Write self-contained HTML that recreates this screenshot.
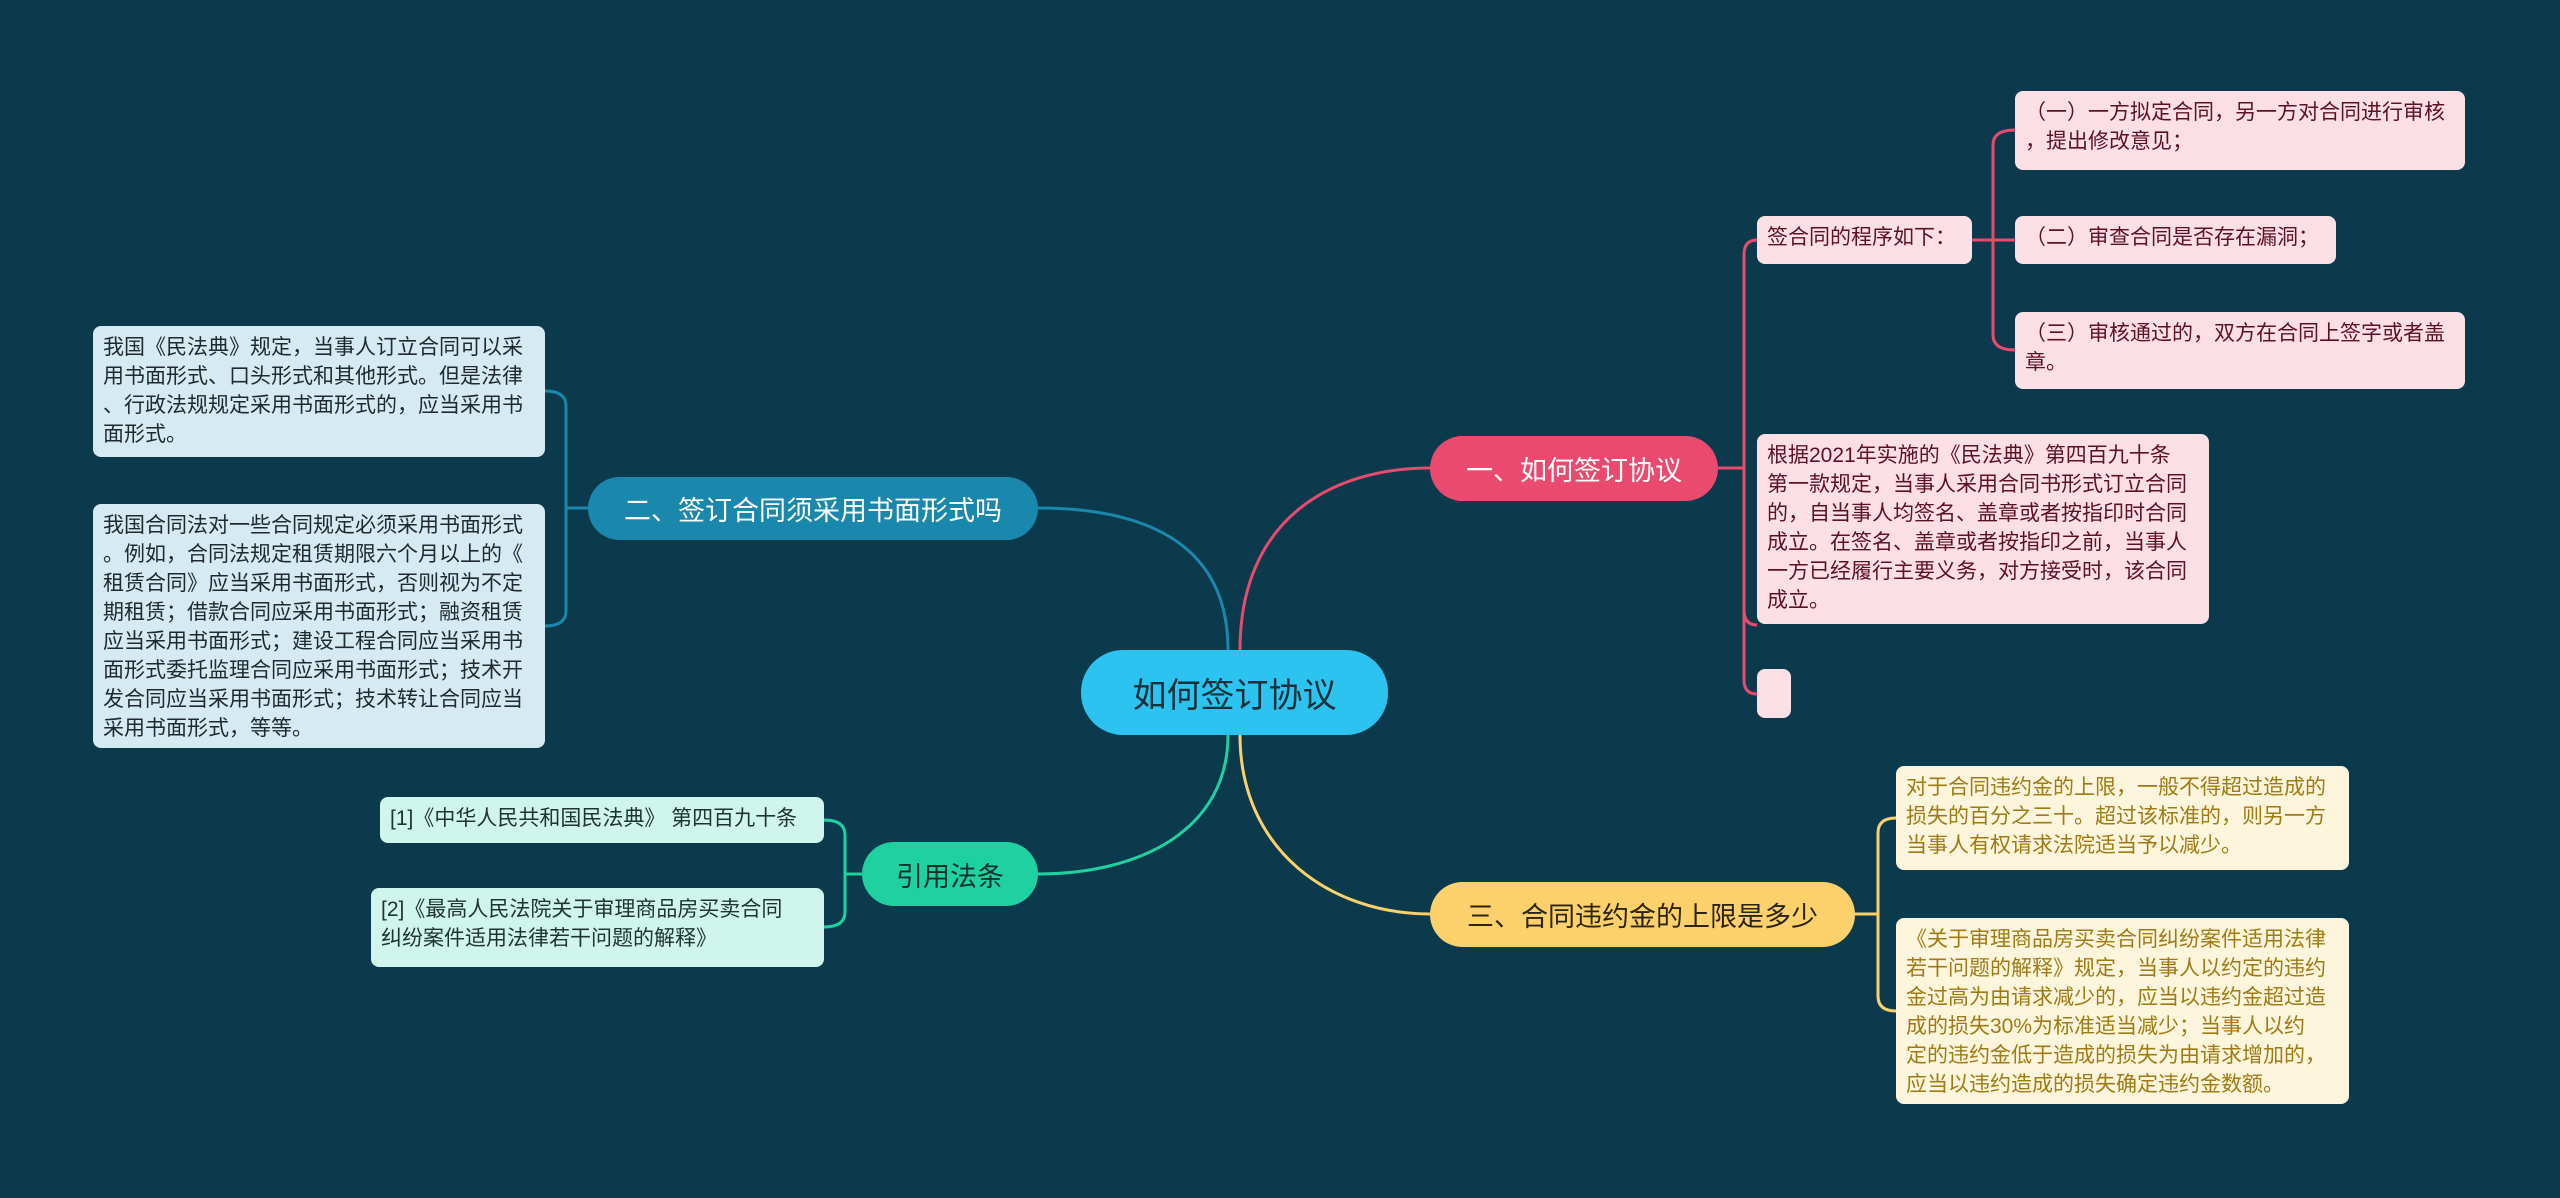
<!DOCTYPE html>
<html><head><meta charset="utf-8"><style>
html,body{margin:0;padding:0;}
body{width:2560px;height:1198px;background:#0b3a4d;position:relative;overflow:hidden;font-family:"Liberation Sans","Noto Sans CJK SC",sans-serif;}
.n{position:absolute;box-sizing:border-box;}
.main{display:flex;align-items:center;justify-content:center;border-radius:34px;font-size:27px;white-space:nowrap;}
.leaf{border-radius:8px;font-size:21px;line-height:29px;padding:7px 10px;word-break:break-all;line-break:anywhere;}
.nw{white-space:nowrap;}
.pk{background:#fde0e6;color:#5e1027;}
.bl{background:#d5eaf1;color:#1e2a30;}
.yl{background:#fdf5dc;color:#a07a12;}
.gr{background:#d0f5ea;color:#1f3330;}
svg{position:absolute;left:0;top:0;}
</style></head><body>
<svg width="2560" height="1198" fill="none" stroke-width="3">
<path d="M1240,650 C1240,520 1330,468 1430,468" stroke="#e94a6e"/>
<path d="M1228,650 C1228,540 1140,508 1038,508" stroke="#1a87ad"/>
<path d="M1228,735 C1228,830 1140,874 1038,874" stroke="#1fd1a0"/>
<path d="M1240,735 C1240,850 1330,914 1430,914" stroke="#fcd06a"/>
<path d="M1718,468 H1744 M1744,468 V255 Q1744,240 1757,240 M1744,468 V610 Q1744,625 1757,625 M1744,468 V680 Q1744,694 1757,694" stroke="#e94a6e"/>
<path d="M1972,240 H1993 M1993,240 V145 Q1993,130 2015,130 M1993,240 H2015 M1993,240 V335 Q1993,350 2015,350" stroke="#e94a6e"/>
<path d="M588,508 H566 M566,508 V406 Q566,391 545,391 M566,508 V611 Q566,626 545,626" stroke="#1a87ad"/>
<path d="M862,874 H845 M845,874 V835 Q845,820 824,820 M845,874 V912 Q845,927 824,927" stroke="#1fd1a0"/>
<path d="M1855,914 H1878 M1878,914 V833 Q1878,818 1896,818 M1878,914 V996 Q1878,1011 1896,1011" stroke="#fcd06a"/>
</svg>

<div class="n main" style="left:1081px;top:650px;width:307px;height:85px;background:#2cc3f0;color:#17303a;font-size:34px;border-radius:42px;">如何签订协议</div>
<div class="n main" style="left:1430px;top:436px;width:288px;height:65px;background:#e94a6e;color:#fff;">一、如何签订协议</div>
<div class="n main" style="left:588px;top:477px;width:450px;height:63px;background:#1a87ad;color:#fff;">二、签订合同须采用书面形式吗</div>
<div class="n main" style="left:1430px;top:882px;width:425px;height:65px;background:#fcd06a;color:#2a2410;">三、合同违约金的上限是多少</div>
<div class="n main" style="left:862px;top:842px;width:176px;height:64px;background:#1fd1a0;color:#10302a;">引用法条</div>

<div class="n leaf pk" style="left:1757px;top:216px;width:215px;height:48px;">签合同的程序如下：</div>
<div class="n leaf pk" style="left:2015px;top:91px;width:450px;height:79px;">（一）一方拟定合同，另一方对合同进行审核，提出修改意见；</div>
<div class="n leaf pk" style="left:2015px;top:216px;width:321px;height:48px;">（二）审查合同是否存在漏洞；</div>
<div class="n leaf pk" style="left:2015px;top:312px;width:450px;height:77px;">（三）审核通过的，双方在合同上签字或者盖章。</div>
<div class="n leaf pk nw" style="left:1757px;top:434px;width:452px;height:190px;">根据2021年实施的《民法典》第四百九十条<br>第一款规定，当事人采用合同书形式订立合同<br>的，自当事人均签名、盖章或者按指印时合同<br>成立。在签名、盖章或者按指印之前，当事人<br>一方已经履行主要义务，对方接受时，该合同<br>成立。</div>
<div class="n leaf pk" style="left:1757px;top:669px;width:34px;height:49px;padding:0;"></div>

<div class="n leaf bl" style="left:93px;top:326px;width:452px;height:131px;padding-right:8px;">我国《民法典》规定，当事人订立合同可以采用书面形式、口头形式和其他形式。但是法律、行政法规规定采用书面形式的，应当采用书面形式。</div>
<div class="n leaf bl" style="left:93px;top:504px;width:452px;height:244px;padding-right:8px;">我国合同法对一些合同规定必须采用书面形式。例如，合同法规定租赁期限六个月以上的《租赁合同》应当采用书面形式，否则视为不定期租赁；借款合同应采用书面形式；融资租赁应当采用书面形式；建设工程合同应当采用书面形式委托监理合同应采用书面形式；技术开发合同应当采用书面形式；技术转让合同应当采用书面形式，等等。</div>

<div class="n leaf yl" style="left:1896px;top:766px;width:453px;height:104px;">对于合同违约金的上限，一般不得超过造成的损失的百分之三十。超过该标准的，则另一方当事人有权请求法院适当予以减少。</div>
<div class="n leaf yl nw" style="left:1896px;top:918px;width:453px;height:186px;">《关于审理商品房买卖合同纠纷案件适用法律<br>若干问题的解释》规定，当事人以约定的违约<br>金过高为由请求减少的，应当以违约金超过造<br>成的损失30%为标准适当减少；当事人以约<br>定的违约金低于造成的损失为由请求增加的，<br>应当以违约造成的损失确定违约金数额。</div>

<div class="n leaf gr nw" style="left:380px;top:797px;width:444px;height:46px;">[1]《中华人民共和国民法典》 第四百九十条</div>
<div class="n leaf gr nw" style="left:371px;top:888px;width:453px;height:79px;">[2]《最高人民法院关于审理商品房买卖合同<br>纠纷案件适用法律若干问题的解释》</div>
</body></html>
